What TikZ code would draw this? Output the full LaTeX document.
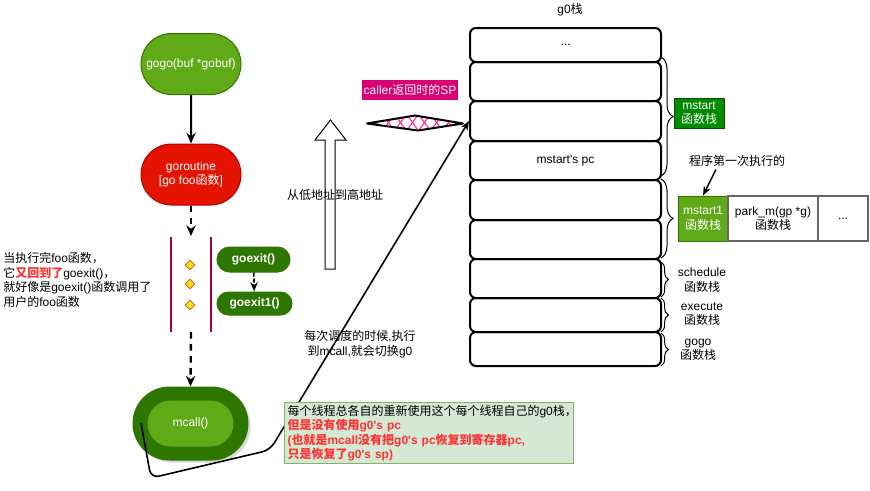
\documentclass[tikz,border=0pt]{standalone}
\usepackage{fontspec}
\setmainfont{Liberation Sans}
\newfontfamily\cjkfont{Noto Sans CJK SC}
\usetikzlibrary{shapes.misc,shapes.geometric,arrows.meta,decorations.pathreplacing,shadows}
\XeTeXinterchartokenstate=1
\newXeTeXintercharclass\CJKcls
\newcount\cjkc
\def\setcjkrange#1#2{\cjkc=#1\relax\loop\XeTeXcharclass\cjkc=\CJKcls\relax\ifnum\cjkc<#2\relax\advance\cjkc by 1\repeat}
\setcjkrange{"3000}{"303F}
\setcjkrange{"4E00}{"9FFF}
\setcjkrange{"FF00}{"FFEF}
\XeTeXinterchartoks 0 \CJKcls={\begingroup\cjkfont}
\XeTeXinterchartoks 4095 \CJKcls={\begingroup\cjkfont}
\XeTeXinterchartoks \CJKcls 0={\endgroup}
\XeTeXinterchartoks \CJKcls 4095={\endgroup}
\definecolor{gfill}{HTML}{60A917}
\definecolor{gline}{HTML}{2D7600}
\definecolor{rfill}{HTML}{E51400}
\definecolor{rline}{HTML}{B20000}
\definecolor{crim}{HTML}{A50040}
\definecolor{mag}{HTML}{D80073}
\definecolor{hpink}{HTML}{FF3399}
\definecolor{dgreen}{HTML}{008A00}
\definecolor{dgline}{HTML}{005700}
\definecolor{notefill}{HTML}{D5E8D4}
\definecolor{noteline}{HTML}{82B366}
\definecolor{txtred}{HTML}{FF3333}
\definecolor{grayline}{HTML}{666666}
\definecolor{dmline}{HTML}{B85450}
\definecolor{dmfill}{HTML}{FFE100}
\newcommand\myfs{\fontsize{9pt}{10.8pt}\selectfont}
\newcommand\apos{\textquotesingle}
\begin{document}
\begin{tikzpicture}[x=0.75pt,y=-0.75pt,font=\myfs,
  pill/.style={rounded rectangle, draw, line width=0.75pt, text=white, inner sep=0pt},
  stk/.style={draw, line width=1.5pt, rounded corners=4.5pt, minimum width=143.25pt, inner sep=0pt},
  arr/.style={-{Stealth[length=8pt,width=7pt]}, line width=1.5pt},
  darr/.style={-{Stealth[length=8pt,width=7pt]}, line width=1.8pt, dash pattern=on 5pt off 4pt},
  thinarr/.style={-{Stealth[length=7pt,width=5.5pt]}, line width=1.1pt},
  brc/.style={decorate, decoration={brace, amplitude=#1}, line width=0.75pt},
  brc/.default=8pt,
  lbl/.style={align=center, inner sep=0pt},
  dmd/.style={diamond, draw=dmline, fill=dmfill, line width=0.6pt, minimum width=7.5pt, minimum height=7.5pt, inner sep=0pt},
  gbox/.style={text=white, align=center, inner sep=0pt, line width=0.75pt}]
\useasboundingbox (0,0) rectangle (870,490);

% left column
\node[pill, fill=gfill, draw=gline, minimum width=75pt, minimum height=45.75pt] (gogo) at (191,64) {gogo(buf *gobuf)};
\node[pill, fill=rfill, draw=rline, minimum width=75pt, minimum height=45.75pt, align=center] (gor) at (191,174.5) {goroutine\\{}[go foo函数]};
\draw[arr] (gogo) -- (gor);
\coordinate (d1) at (191,236);
\draw[darr] (gor.south) -- (d1);

\draw[crim, line width=0.9pt] (171,237) -- (171,332);
\draw[crim, line width=0.9pt] (211,237) -- (211,332);
\node[dmd] (dm1) at (190,265) {};
\node[dmd] (dm2) at (190,284) {};
\node[dmd] (dm3) at (190,305) {};

\node[pill, fill=gline, draw=gline, minimum width=54.75pt, minimum height=18.75pt, font=\myfs\bfseries] (ge) at (253.5,259.5) {goexit()};
\node[pill, fill=gline, draw=gline, minimum width=56.25pt, minimum height=17.25pt, font=\myfs\bfseries] (ge1) at (254.5,303.5) {goexit1()};
\draw[thinarr, line width=1.3pt, dash pattern=on 3pt off 1.5pt] (ge) -- (ge1);

\node[pill, fill=gline, draw=gline, minimum width=86.25pt, minimum height=54.75pt, drop shadow={opacity=0.3, shadow xshift=2pt, shadow yshift=-2pt}] (mo) at (190.5,423.5) {};
\node[pill, fill=gfill, draw=gfill, minimum width=63.75pt, minimum height=33.75pt] (mc) at (190.5,423.5) {mcall()};
\coordinate (d2) at (191,332);
\draw[darr] (d2) -- (mo.north);

\node[align=left, anchor=west, inner sep=0pt] (ltxt) at (3,280) {当执行完foo函数，\\它\textcolor{txtred}{\bfseries 又回到了}goexit()，\\就好像是goexit()函数调用了\\用户的foo函数};

% hollow arrow
\draw[fill=white, line width=0.75pt] (325,269) -- (335,269) -- (335,140) -- (346,140) -- (330.5,120) -- (315,140) -- (325,140) -- cycle;
\node[inner sep=0pt] (lh) at (335,195) {从低地址到高地址};

% caller SP
\node[fill=mag, text=white, minimum width=72pt, minimum height=15pt, inner sep=0pt] (sp) at (410,90) {caller返回时的SP};

% hatched diamond
\begin{scope}
\clip (367,123.5) -- (415,115.5) -- (463,123.5) -- (418,130.5) -- cycle;
\foreach \k in {340,352,...,480} {
  \draw[hpink, line width=0.9pt] (\k,140) -- (\k+25,105);
  \draw[hpink, line width=0.9pt] (\k,105) -- (\k+25,140);
}
\end{scope}
\draw[line width=1.5pt, line join=round] (367,123.5) -- (415,115.5) -- (463,123.5) -- (418,130.5) -- cycle;

% g0 stack
\node[inner sep=0pt] (g0t) at (570,10) {g0栈};
\node[stk, minimum height=25.5pt] (s1) at (565.5,45) {...};
\node[stk, minimum height=29.25pt] (s2) at (565.5,81.5) {};
\node[stk, minimum height=30pt] (s3) at (565.5,121) {};
\node[stk, minimum height=29.25pt] (s4) at (565.5,160.5) {mstart\apos s pc};
\node[stk, minimum height=30pt] (s5) at (565.5,200) {};
\node[stk, minimum height=29.25pt] (s6) at (565.5,239.5) {};
\node[stk, minimum height=29.25pt] (s7) at (565.5,278.5) {};
\node[stk, minimum height=25.5pt] (s8) at (565.5,315) {};
\node[stk, minimum height=25.5pt] (s9) at (565.5,349) {};

% braces
\draw[brc=9pt] (661,57) -- (661,176);
\draw[brc=9pt] (661,179) -- (661,258);
\draw[brc=5.5pt] (661,262) -- (661,297);
\draw[brc=5.5pt] (661,298) -- (661,332);
\draw[brc=5.5pt] (661,333) -- (661,366);

\node[gbox, fill=dgreen, draw=dgline, minimum width=37.5pt, minimum height=22.5pt] (ms) at (699,113) {mstart\\函数栈};
\node[gbox, fill=gfill, draw=gline, minimum width=37.5pt, minimum height=33.75pt] (m1) at (703,218.5) {mstart1\\函数栈};
\node[draw=grayline, line width=1pt, align=center, inner sep=0pt, minimum width=67.5pt, minimum height=33.75pt] (pk) at (773,218.5) {park\_m(gp *g)\\函数栈};
\node[draw=grayline, line width=1pt, inner sep=0pt, minimum width=37.5pt, minimum height=33.75pt] (pd) at (843,218.5) {...};

\node[inner sep=0pt] (fst) at (737,161) {程序第一次执行的};
\draw[thinarr] ([xshift=-15.75pt, yshift=-2pt]fst.south) -- (m1.north);

\node[lbl] (sch) at (702,280) {schedule\\函数栈};
\node[lbl] (exe) at (702,314) {execute\\函数栈};
\node[lbl] (ggl) at (698,350) {gogo\\函数栈};

\node[lbl] (sched) at (360,344) {每次调度的时候,执行\\到mcall,就会切换g0};

% connector mcall -> stack
\coordinate (mcs) at (141,423);
\draw[thinarr, line width=1.2pt, rounded corners=6pt] (mcs) -- (151,478) -- (270,450) -- (s3.west);

% note
\node[fill=notefill, draw=noteline, line width=0.75pt, anchor=north west, text width=212.25pt, inner xsep=2.25pt, inner ysep=2pt, minimum height=45.75pt, align=left] (note) at (284,402) {每个线程总各自的重新使用这个每个线程自己的g0栈，\\\textcolor{txtred}{\bfseries 但是没有使用g0\apos s pc}\\\textcolor{txtred}{\bfseries (也就是mcall没有把g0\apos s pc恢复到寄存器pc,}\\\textcolor{txtred}{\bfseries 只是恢复了g0\apos s sp)}};
\end{tikzpicture}
\end{document}
